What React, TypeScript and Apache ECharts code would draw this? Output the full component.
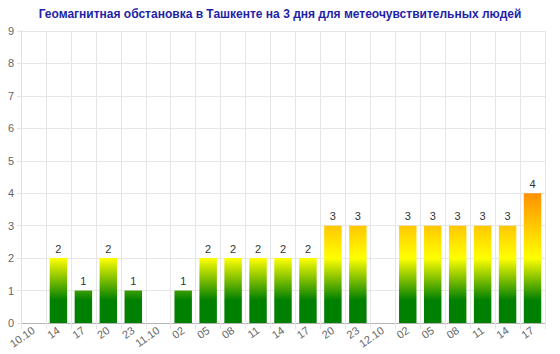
import React, { useEffect, useRef } from "react";
import * as echarts from "echarts";

const titleText = "Геомагнитная обстановка в Ташкенте на 3 дня для метеочувствительных людей";
const categories = ["10.10", "14", "17", "20", "23", "11.10", "02", "05", "08", "11", "14", "17", "20", "23", "12.10", "02", "05", "08", "11", "14", "17"];
const values = [0, 2, 1, 2, 1, 0, 1, 2, 2, 2, 2, 2, 3, 3, 0, 3, 3, 3, 3, 3, 4];
const yMax = 9;

export default function App() {
  const ref = useRef<HTMLDivElement>(null);
  useEffect(() => {
    document.body.style.margin = "0";
    const chart = echarts.init(ref.current!, null, { renderer: "svg" });
    const font = "'Liberation Sans', Arial, sans-serif";
    const base: any = {
      animation: false,
      title: {
        text: titleText,
        left: "center",
        top: 3,
        textStyle: { color: "#1f1fa8", fontSize: 12, fontWeight: "bold", fontFamily: font },
      },
      grid: { left: 21, right: 15, top: 31, bottom: 31, containLabel: false },
      xAxis: {
        type: "category",
        data: categories,
        axisLine: { show: true, lineStyle: { color: "#b5b5b5" } },
        axisTick: { show: true, length: 6, lineStyle: { color: "#e4e4e4" } },
        axisLabel: { rotate: 35, color: "#666", fontSize: 11, fontFamily: font, margin: 6, interval: 0 },
        splitLine: { show: true, lineStyle: { color: "#e6e6e6" } },
      },
      yAxis: {
        type: "value",
        min: 0,
        max: yMax,
        interval: 1,
        axisLine: { show: true, lineStyle: { color: "#e0e0e0" } },
        axisTick: { show: true, length: 4, lineStyle: { color: "#e4e4e4" } },
        axisLabel: { color: "#666", fontSize: 11, fontFamily: font, margin: 7 },
        splitLine: { show: true, lineStyle: { color: "#e6e6e6" } },
      },
      series: [
        {
          type: "bar",
          data: values,
          barWidth: "70%",
          label: {
            show: true,
            position: "top",
            color: "#333",
            fontSize: 11,
            fontFamily: font,
            distance: 4,
            formatter: (p: any) => (p.value === 0 ? "" : String(p.value)),
          },
          itemStyle: { color: "#008000" },
        },
      ],
    };
    chart.setOption(base);
    const y0 = chart.convertToPixel({ yAxisIndex: 0 }, 0) as number;
    const y9 = chart.convertToPixel({ yAxisIndex: 0 }, yMax) as number;
    const grad = new echarts.graphic.LinearGradient(
      0, y0, 0, y9,
      [
        { offset: 0, color: "#008000" },
        { offset: 0.7 / yMax, color: "#008000" },
        { offset: 2 / yMax, color: "#ffff00" },
        { offset: 4 / yMax, color: "#ff9000" },
        { offset: 1, color: "#ff0000" },
      ],
      true
    );
    chart.setOption({ series: [{ itemStyle: { color: grad } }] });
    return () => chart.dispose();
  }, []);
  return <div ref={ref} style={{ width: 560, height: 354 }} />;
}
